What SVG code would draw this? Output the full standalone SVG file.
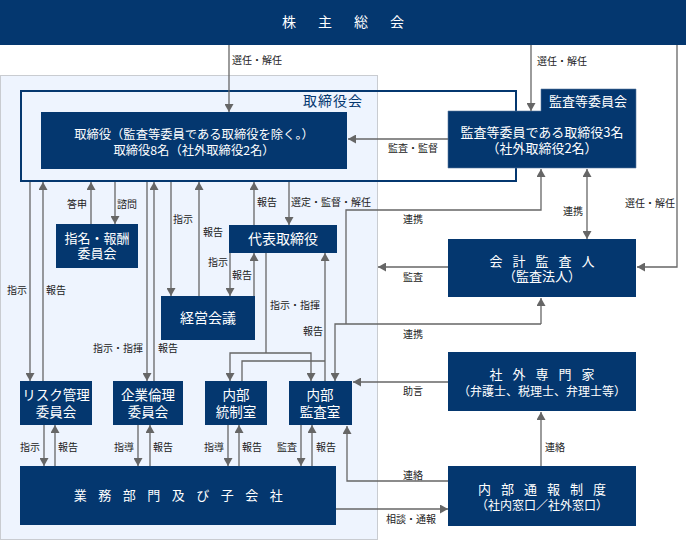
<svg xmlns="http://www.w3.org/2000/svg" width="686" height="540" viewBox="0 0 686 540">
<style>
.bx{fill:#04376f}
.t{font-family:"Noto Sans CJK JP","Noto Sans",sans-serif;fill:#fff;text-anchor:middle}
.t13{font-size:13px}
.t14{font-size:14px}
.lb{font-family:"Noto Sans CJK JP","Noto Sans",sans-serif;font-size:10px;fill:#222}
.ln{fill:none;stroke:#666;stroke-width:1.3}
.ar{marker-end:url(#ah)}
</style>
<defs>
<marker id="ah" markerUnits="userSpaceOnUse" markerWidth="9" markerHeight="9" refX="8" refY="4.5" orient="auto">
<path d="M0,0 L8,4.5 L0,9 z" fill="#666"/>
</marker>
</defs>
<rect x="0" y="0" width="686" height="540" fill="#fff"/>
<rect x="0.5" y="75.5" width="377" height="464" fill="#eef4fe" stroke="#c9ccd1" stroke-width="1"/>

<g id="kabunushi">
<rect class="bx" x="0" y="0" width="686" height="45"/>
<text class="t t14" x="354" y="27" style="letter-spacing:22px">株主総会</text>
</g>

<g id="torishimariyakukai">
<rect x="21" y="91" width="495" height="90" fill="none" stroke="#04376f" stroke-width="2"/>
<text x="333" y="106" style="font-family:'Noto Sans CJK JP',sans-serif;font-size:14px;fill:#04376f;text-anchor:middle;letter-spacing:1px">取締役会</text>
</g>

<g id="torishimariyaku">
<rect class="bx" x="41" y="112" width="306" height="57"/>
<text class="t" style="font-size:12.3px"><tspan x="194" y="138.5">取締役（監査等委員である取締役を除く。）</tspan><tspan x="194" y="154.5">取締役8名（社外取締役2名）</tspan></text>
</g>

<g id="kansatou">
<path class="bx" d="M541,89 H636 V168 H448 V111 H541 Z" stroke="#5a7aa0" stroke-width="0.6"/>
<text class="t t13" x="588" y="106">監査等委員会</text>
<text class="t t13"><tspan x="542" y="136.5">監査等委員である取締役3名</tspan><tspan x="542" y="152.5">（社外取締役2名）</tspan></text>
</g>

<g id="shimei">
<rect class="bx" x="56" y="224" width="82" height="44"/>
<text class="t t13"><tspan x="97" y="243">指名・報酬</tspan><tspan x="97" y="258">委員会</tspan></text>
</g>

<g id="daihyo">
<rect class="bx" x="229" y="225" width="108" height="28"/>
<text class="t t14" x="283" y="244">代表取締役</text>
</g>

<g id="keiei">
<rect class="bx" x="161" y="296" width="94" height="44"/>
<text class="t t14" x="208" y="323">経営会議</text>
</g>

<g id="kaikei">
<rect class="bx" x="448" y="239" width="188" height="58"/>
<text class="t t13"><tspan x="547" y="266" style="letter-spacing:10px">会計監査人</tspan><tspan x="542" y="281">（監査法人）</tspan></text>
</g>

<g id="shagai">
<rect class="bx" x="448" y="352" width="188" height="59"/>
<text class="t t13"><tspan x="547" y="379" style="letter-spacing:10px">社外専門家</tspan><tspan x="542" y="396" style="font-size:12px">（弁護士、税理士、弁理士等）</tspan></text>
</g>

<g id="tsuho">
<rect class="bx" x="448" y="466" width="188" height="60"/>
<text class="t t13"><tspan x="547" y="494" style="letter-spacing:10px">内部通報制度</tspan><tspan x="542" y="510" style="font-size:12px">（社内窓口／社外窓口）</tspan></text>
</g>

<g id="risk">
<rect class="bx" x="20" y="381" width="72" height="44"/>
<text class="t" style="font-size:13.5px"><tspan x="56" y="400">リスク管理</tspan><tspan x="56" y="417">委員会</tspan></text>
</g>

<g id="kigyo">
<rect class="bx" x="113" y="381" width="70" height="44"/>
<text class="t" style="font-size:13.5px"><tspan x="148" y="400">企業倫理</tspan><tspan x="148" y="417">委員会</tspan></text>
</g>

<g id="naibutosei">
<rect class="bx" x="205" y="381" width="62" height="44"/>
<text class="t" style="font-size:13.5px"><tspan x="236" y="400">内部</tspan><tspan x="236" y="417">統制室</tspan></text>
</g>

<g id="naibukansa">
<rect class="bx" x="289" y="381" width="63" height="44"/>
<text class="t" style="font-size:13.5px"><tspan x="320" y="400">内部</tspan><tspan x="320" y="417">監査室</tspan></text>
</g>

<g id="gyomu">
<rect class="bx" x="20" y="466" width="316" height="59"/>
<text class="t t13" x="184" y="500" style="letter-spacing:11.5px">業務部門及び子会社</text>
</g>

<g id="connectors">
<path class="ln ar" d="M229,45 V112"/>
<path class="ln ar" d="M531,45 V111"/>
<path class="ln ar" d="M677,45 V267 H637"/>
<path class="ln ar" d="M448,139 H348"/>
<path class="ln ar" d="M587,205 V169"/>
<path class="ln ar" d="M587,205 V239"/>
<path class="ln ar" d="M448,267 H378"/>
<path class="ln ar" d="M448,382 H353"/>
<path class="ln ar" d="M541,466 V412"/>
<path class="ln ar" d="M448,481 H347 V426"/>
<path class="ln ar" d="M336,509 H448"/>
<path class="ln ar" d="M346,324 V210 H541 V169"/>
<path class="ln ar" d="M541,324 V298"/>
<path class="ln ar" d="M541,324 H335 V381"/>

<path class="ln ar" d="M30,182 V381"/>
<path class="ln ar" d="M43,381 V182"/>
<path class="ln ar" d="M91,224 V182"/>
<path class="ln ar" d="M115,182 V224"/>
<path class="ln ar" d="M147,182 V381"/>
<path class="ln ar" d="M154,381 V182"/>
<path class="ln ar" d="M171,182 V296"/>
<path class="ln ar" d="M199,296 V182"/>
<path class="ln ar" d="M254,225 V182"/>
<path class="ln ar" d="M289,182 V225"/>
<path class="ln ar" d="M230,253 V296"/>
<path class="ln ar" d="M254,296 V253"/>
<path class="ln" d="M266,253 V353"/>
<path class="ln ar" d="M266,353 H230 V381"/>
<path class="ln ar" d="M266,353 H311 V381"/>
<path class="ln" d="M242,381 V361 H325"/>
<path class="ln ar" d="M325,381 V253"/>

<path class="ln ar" d="M44,425 V466"/>
<path class="ln ar" d="M55,466 V425"/>
<path class="ln ar" d="M138,425 V466"/>
<path class="ln ar" d="M150,466 V425"/>
<path class="ln ar" d="M228,425 V466"/>
<path class="ln ar" d="M239,466 V425"/>
<path class="ln ar" d="M301,425 V466"/>
<path class="ln ar" d="M312,466 V425"/>
</g>

<g id="labels">
<text class="lb" x="232" y="64">選任・解任</text>
<text class="lb" x="537" y="65">選任・解任</text>
<text class="lb" x="625" y="207">選任・解任</text>
<text class="lb" x="388" y="152">監査・監督</text>
<text class="lb" x="563" y="215">連携</text>
<text class="lb" x="403" y="223">連携</text>
<text class="lb" x="403" y="281">監査</text>
<text class="lb" x="403" y="338">連携</text>
<text class="lb" x="403" y="395">助言</text>
<text class="lb" x="545" y="451">連絡</text>
<text class="lb" x="403" y="479">連絡</text>
<text class="lb" x="386" y="523">相談・通報</text>
<text class="lb" x="67" y="208">答申</text>
<text class="lb" x="117" y="208">諮問</text>
<text class="lb" x="173" y="223">指示</text>
<text class="lb" x="203" y="236">報告</text>
<text class="lb" x="257" y="206">報告</text>
<text class="lb" x="291" y="206">選定・監督・解任</text>
<text class="lb" x="208" y="266">指示</text>
<text class="lb" x="232" y="279">報告</text>
<text class="lb" x="270" y="309">指示・指揮</text>
<text class="lb" x="303" y="335">報告</text>
<text class="lb" x="7" y="294">指示</text>
<text class="lb" x="46" y="294">報告</text>
<text class="lb" x="93" y="352">指示・指揮</text>
<text class="lb" x="158" y="352">報告</text>
<text class="lb" x="20" y="451">指示</text>
<text class="lb" x="58" y="451">報告</text>
<text class="lb" x="114" y="451">指導</text>
<text class="lb" x="153" y="451">報告</text>
<text class="lb" x="204" y="451">指導</text>
<text class="lb" x="242" y="451">報告</text>
<text class="lb" x="277" y="451">監査</text>
<text class="lb" x="316" y="451">報告</text>
</g>
</svg>
